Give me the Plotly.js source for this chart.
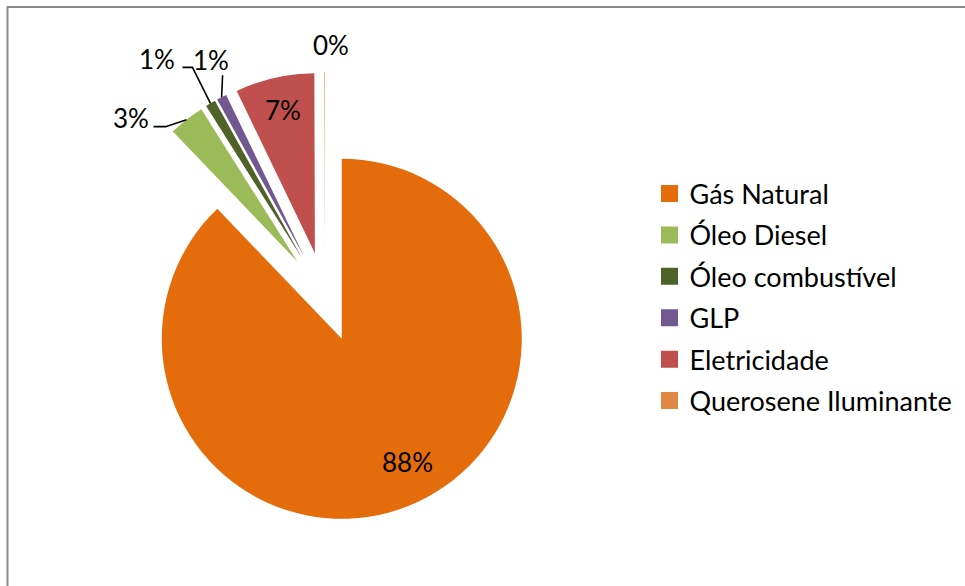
<!DOCTYPE html>
<html><head><meta charset="utf-8">
<script src="https://cdn.plot.ly/plotly-3.0.1.min.js"></script>
<style>html,body{margin:0;padding:0;overflow:hidden;background:#fff}</style>
</head><body><div id="chart" style="width:965px;height:586px"></div>
<script>
// ---- data ----
const categories = ['Gás Natural','Óleo Diesel','Óleo combustível','GLP','Eletricidade','Querosene Iluminante'];
const shares = [87.85, 3.2, 0.9, 0.9, 7.1, 0.05];
const sliceColors = ['#E46C0A','#9BBB59','#4F6228','#71588F','#C0504D','#DF8844'];

// ---- layout / style ----
const W = 965, H = 586;
const pieCenter = [325, 297];   // px
const pieRadius = 180;          // px
const pullFrac = 0.25;
const FONT = 'Lato, "Open Sans", sans-serif';
const labelFontSize = 26;
const legendFontSize = 27;
const labelStyle = [
  {dx: -1,  dy: -44},
  {dx: -56, dy: -2,  leader: [[-21, 7], [-33, 7]]},
  {dx: -53, dy: -44, leader: [[-18, -36], [-28, -36]]},
  {dx: -11, dy: -37, leader: [[1, -22]]},
  {dx: 8,   dy: 32},
  {dx: 6,   dy: -27}
];

const px = x => x / W;
const py = y => 1 - y / H;

const half = pieRadius * (1 + pullFrac);
const total = shares.reduce((a, b) => a + b, 0);

const pie = {
  type: 'pie',
  labels: categories,
  values: shares,
  marker: {colors: sliceColors, line: {width: 0}},
  sort: false,
  direction: 'clockwise',
  rotation: 0,
  pull: shares.map(() => pullFrac),
  textinfo: 'none',
  hoverinfo: 'label+percent',
  showlegend: false,
  domain: {
    x: [px(pieCenter[0] - half), px(pieCenter[0] + half)],
    y: [py(pieCenter[1] + half), py(pieCenter[1] - half)]
  }
};

// legend entries
const legendTraces = categories.map((c, i) => ({
  type: 'scatter', mode: 'markers', x: [null], y: [null], name: c,
  legendgroup: 'g' + i,
  marker: {symbol: 'square', size: 12, color: sliceColors[i], line: {width: 5, color: sliceColors[i]}},
  hoverinfo: 'skip'
}));

// labels and leader lines from slice angles
const annotations = [];
const shapes = [];
let cum = 0;
shares.forEach((v, i) => {
  const mid = (cum + v / 2) / total * 2 * Math.PI;
  cum += v;
  const ux = Math.sin(mid), uy = -Math.cos(mid);
  const ox = pieCenter[0] + half * ux, oy = pieCenter[1] + half * uy;
  const st = labelStyle[i];
  annotations.push({
    xref: 'paper', yref: 'paper', x: px(ox + st.dx), y: py(oy + st.dy),
    xanchor: 'center', yanchor: 'middle', showarrow: false,
    text: Math.round(v / total * 100) + '%',
    font: {family: FONT, size: labelFontSize, color: '#000000'}
  });
  if (st.leader) {
    let path = 'M' + px(ox) + ',' + py(oy);
    st.leader.forEach(p => { path += ' L' + px(ox + p[0]) + ',' + py(oy + p[1]); });
    shapes.push({type: 'path', xref: 'paper', yref: 'paper', path: path,
      line: {color: '#000000', width: 1.6}});
  }
});

// chart frame
shapes.push({type: 'rect', xref: 'paper', yref: 'paper',
  x0: px(7.5), y0: py(7), x1: 1.05, y1: -0.05,
  line: {color: '#898989', width: 2}, fillcolor: 'rgba(0,0,0,0)'});

const layout = {
  width: W, height: H,
  margin: {l: 0, r: 0, t: 0, b: 0, pad: 0},
  paper_bgcolor: '#ffffff', plot_bgcolor: '#ffffff',
  xaxis: {visible: false, range: [0, 1], fixedrange: true},
  yaxis: {visible: false, range: [0, 1], fixedrange: true},
  showlegend: true,
  legend: {
    x: px(649.5), y: py(169.5), xanchor: 'left', yanchor: 'top',
    font: {family: FONT, size: legendFontSize, color: '#000000'},
    tracegroupgap: 3.3, bgcolor: 'rgba(0,0,0,0)', borderwidth: 0
  },
  annotations: annotations,
  shapes: shapes,
  font: {family: FONT}
};

Plotly.newPlot('chart', [pie].concat(legendTraces), layout, {displayModeBar: false, staticPlot: true});
</script>
</body></html>
